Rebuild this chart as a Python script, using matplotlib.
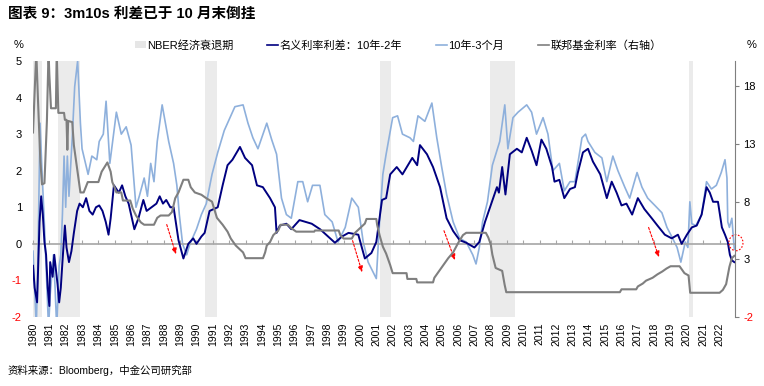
import numpy as np
import matplotlib.pyplot as plt
from matplotlib.patches import Patch, Ellipse
from matplotlib.lines import Line2D

plt.rcParams['font.family'] = ['Liberation Sans', 'Noto Sans CJK SC']
plt.rcParams['axes.unicode_minus'] = False

# NBER recessions (decimal years)
rec_start = [1980.0, 1981.55, 1990.55, 2001.2, 2007.95, 2020.1]
rec_end = [1980.55, 1982.9, 1991.25, 2001.9, 2009.5, 2020.35]

# 10y-2y spread
t_102 = [1980.0, 1980.1, 1980.25, 1980.4, 1980.5, 1980.6, 1980.7, 1980.8, 1980.9, 1981.0,
         1981.05, 1981.2, 1981.3, 1981.5, 1981.6, 1981.7, 1981.8, 1981.95, 1982.05, 1982.2,
         1982.35, 1982.5, 1982.7, 1982.85, 1983.05, 1983.25, 1983.45, 1983.65, 1983.85, 1984.05,
         1984.25, 1984.45, 1984.62, 1984.75, 1984.95, 1985.25, 1985.45, 1985.65, 1985.85, 1986.05,
         1986.2, 1986.45, 1986.75, 1986.95, 1987.25, 1987.55, 1987.75, 1987.95, 1988.15, 1988.4,
         1988.6, 1988.9, 1989.2, 1989.5, 1989.8, 1990.0, 1990.3, 1990.5, 1990.8, 1991.3,
         1991.6, 1991.9, 1992.2, 1992.66, 1992.97, 1993.4, 1993.7, 1994.06, 1994.5, 1994.8,
         1994.9, 1995.1, 1995.5, 1995.8, 1996.3, 1997.05, 1997.56, 1998.05, 1998.47, 1998.9,
         1999.3, 1999.9, 2000.3, 2000.7, 2001.0, 2001.35, 2001.6, 2001.85, 2002.25, 2002.6,
         2003.2, 2003.5, 2003.67, 2004.1, 2004.47, 2004.9, 2005.3, 2005.7, 2006.1, 2006.5,
         2007.0, 2007.3, 2007.65, 2008.07, 2008.38, 2008.5, 2008.7, 2008.9, 2009.17, 2009.6,
         2009.9, 2010.2, 2010.5, 2010.8, 2011.1, 2011.4, 2011.75, 2011.9, 2012.2, 2012.5,
         2012.85, 2013.15, 2013.33, 2013.64, 2013.95, 2014.25, 2014.7, 2015.1, 2015.4, 2015.7,
         2016.0, 2016.3, 2016.65, 2017.0, 2017.4, 2017.85, 2018.2, 2018.65, 2019.07, 2019.45,
         2019.68, 2020.0, 2020.3, 2020.6, 2020.9, 2021.2, 2021.4, 2021.6, 2021.9, 2022.14,
         2022.33, 2022.5, 2022.63, 2022.75, 2022.9]
s_102 = [-0.6, -1.2, -1.6, 0.6, 1.3, 0.8, 0.05, -0.3, -1.2, -1.7,
         -0.5, -0.9, -0.3, -1.1, -1.6, -1.2, -0.5, 0.5, -0.1, -0.5,
         -0.2, 0.3, 0.9, 1.1, 1.0, 1.25, 0.9, 0.8, 1.0, 1.05,
         0.9, 0.6, 0.25, 0.7, 1.6, 1.4, 1.6, 1.3, 1.1, 0.7,
         0.4, 0.7, 1.2, 0.9, 1.0, 1.1, 1.3, 1.1, 1.2, 1.0,
         1.0, 0.1, -0.4, 0.0, 0.15, 0.0, 0.2, 0.3, 0.9, 1.0,
         1.6, 2.15, 2.3, 2.65, 2.35, 2.15, 1.6, 1.55, 1.25, 1.0,
         0.3, 0.5, 0.55, 0.4, 0.65, 0.55, 0.4, 0.2, 0.03, 0.2,
         0.3, 0.25, -0.4, -0.25, 0.05, 1.2, 1.25, 1.9, 2.1, 1.9,
         2.35, 2.15, 2.7, 2.45, 2.1, 1.55, 0.7, 0.35, 0.1, 0.03,
         -0.1, 0.05, 0.6, 1.15, 1.55, 1.4, 2.1, 1.35, 2.45, 2.6,
         2.5, 2.9, 2.55, 2.15, 2.85, 2.6, 2.1, 1.7, 1.75, 1.25,
         1.5, 1.55, 1.95, 2.5, 2.6, 2.25, 1.9, 1.25, 1.7, 1.4,
         1.05, 1.1, 0.8, 1.25, 0.95, 0.7, 0.5, 0.25, 0.15, 0.25,
         0.0, 0.25, 0.45, 0.5, 0.8, 1.55, 1.4, 1.15, 1.15, 0.45,
         0.25, 0.05, -0.3, -0.45, -0.5]

# 10y-3m spread
t_103 = [1980.0, 1980.1, 1980.2, 1980.3, 1980.43, 1980.55, 1980.7, 1980.8, 1980.95, 1981.05,
         1981.25, 1981.35, 1981.45, 1981.6, 1981.7, 1981.8, 1981.9, 1982.0, 1982.1, 1982.2,
         1982.4, 1982.55, 1982.73, 1982.9, 1983.0, 1983.37, 1983.6, 1983.9, 1984.05, 1984.3,
         1984.47, 1984.7, 1985.1, 1985.4, 1985.7, 1986.0, 1986.3, 1986.5, 1986.8, 1987.0,
         1987.2, 1987.4, 1987.6, 1987.9, 1988.1, 1988.3, 1988.6, 1988.8, 1988.95, 1989.15,
         1989.4, 1989.6, 1989.8, 1990.0, 1990.3, 1990.6, 1990.95, 1991.3, 1991.7, 1992.35,
         1992.85, 1993.15, 1993.45, 1993.76, 1994.3, 1994.6, 1994.9, 1995.2, 1995.5, 1995.8,
         1996.2, 1996.5, 1996.8, 1997.1, 1997.55, 1997.85, 1998.3, 1998.66, 1999.1, 1999.5,
         1999.9, 2000.2, 2000.5, 2001.0, 2001.2, 2001.4, 2001.6, 2002.0, 2002.3, 2002.6,
         2003.06, 2003.27, 2003.55, 2003.97, 2004.4, 2004.7, 2005.0, 2005.3, 2005.7, 2006.1,
         2006.5, 2006.9, 2007.1, 2007.3, 2007.5, 2007.8, 2008.1, 2008.55, 2008.86, 2009.05,
         2009.36, 2009.67, 2010.2, 2010.5, 2010.8, 2011.2, 2011.5, 2011.8, 2012.2, 2012.5,
         2012.85, 2013.15, 2013.58, 2013.8, 2013.95, 2014.37, 2014.8, 2015.1, 2015.47, 2015.78,
         2016.2, 2016.5, 2016.95, 2017.25, 2017.6, 2018.04, 2018.47, 2018.78, 2019.07, 2019.4,
         2019.63, 2019.9, 2020.06, 2020.18, 2020.3, 2020.55, 2020.9, 2021.2, 2021.5, 2021.8,
         2022.1, 2022.33, 2022.45, 2022.5, 2022.6, 2022.75, 2022.9]
s_103 = [-0.2, -1.2, -2.3, -0.5, 3.3, 2.0, 0.5, -0.6, -2.3, -1.4,
         -0.3, -1.2, -2.3, -0.6, -0.3, 0.8, 2.4, 1.0, 2.4, 1.3,
         2.9, 4.3, 5.0, 3.3, 2.6, 1.9, 2.4, 2.3, 2.8, 3.0,
         3.9, 2.2, 3.6, 3.0, 3.2, 2.7, 1.0, 1.3, 1.8, 1.3,
         2.2, 1.7, 2.8, 3.8, 3.3, 2.8, 2.2, 1.6, 0.8, 0.0,
         -0.3, 0.0, 0.2, 0.4, 0.8, 1.1, 1.9, 2.5, 3.1, 3.75,
         3.8, 3.3, 2.9, 2.6, 3.3, 2.85, 2.45, 1.25, 0.8, 0.7,
         1.7, 1.7, 1.15, 1.6, 1.6, 0.8, 0.6, 0.05, 0.45, 1.25,
         1.0, 0.05, -0.5, -0.95, 0.6, 1.9, 2.45, 3.45, 3.5, 3.0,
         2.9, 2.8, 3.5, 3.35, 3.85, 2.9, 2.1, 1.35, 0.6, 0.15,
         0.05, -0.3, -0.55, -0.1, 0.6, 1.15, 2.15, 2.8, 3.8, 2.6,
         3.45, 3.6, 3.8, 3.6, 3.0, 3.45, 3.0, 2.0, 2.2, 1.45,
         1.7, 1.7, 2.9, 3.0, 2.8, 2.5, 2.35, 1.7, 2.4, 2.0,
         1.55, 1.25, 1.95, 1.55, 1.25, 1.05, 0.85, 0.45, 0.2, -0.1,
         -0.5, 0.05, -0.1, 1.15, 0.55, 0.5, 0.8, 1.7, 1.5, 1.6,
         1.95, 2.3, 1.8, 0.6, 0.45, 0.7, -0.15]

# Fed funds rate (right axis)
t_ff = [1980.0, 1980.1, 1980.2, 1980.3, 1980.45, 1980.55, 1980.7, 1980.85, 1980.95, 1981.0,
        1981.1, 1981.4, 1981.45, 1981.55, 1981.9, 1981.95, 1982.05, 1982.1, 1982.15, 1982.4,
        1982.5, 1982.75, 1982.9, 1983.1, 1983.35, 1984.0, 1984.2, 1984.55, 1984.75, 1984.85,
        1985.0, 1985.1, 1985.4, 1985.5, 1985.95, 1986.1, 1986.3, 1986.6, 1986.8, 1987.4,
        1987.6, 1987.8, 1988.3, 1988.5, 1988.7, 1988.9, 1989.2, 1989.5, 1989.65, 1989.9,
        1990.3, 1990.6, 1990.95, 1991.25, 1991.6, 1991.9, 1992.1, 1992.4, 1992.85, 1993.0,
        1994.07, 1994.2, 1994.3, 1994.5, 1994.7, 1995.0, 1995.15, 1995.6, 1995.8, 1996.1,
        1997.2, 1997.25, 1998.7, 1998.8, 1999.0, 1999.5, 1999.7, 2000.0, 2000.3, 2000.4,
        2001.0, 2001.05, 2001.2, 2001.4, 2001.6, 2001.85, 2002.0, 2002.85, 2002.9, 2003.45,
        2003.5, 2004.47, 2004.55, 2004.8, 2005.1, 2005.4, 2005.7, 2006.0, 2006.3, 2006.5,
        2007.7, 2007.85, 2008.0, 2008.1, 2008.3, 2008.7, 2008.85, 2008.95, 2015.9, 2016.0,
        2016.9, 2017.0, 2017.3, 2017.5, 2017.9, 2018.2, 2018.5, 2018.75, 2019.0, 2019.55,
        2019.7, 2019.85, 2020.1, 2020.2, 2022.0, 2022.2, 2022.4, 2022.5, 2022.6, 2022.75,
        2022.9]
s_ff = [14.0, 17.5, 21.0, 17.0, 11.5, 9.5, 9.6, 15.0, 21.0, 19.0,
        16.1, 16.1, 21.0, 15.7, 15.7, 15.1, 15.1, 12.5, 15.0, 14.9,
        12.9, 10.3, 8.8, 8.8, 9.7, 9.7, 10.6, 11.4, 10.6, 9.7,
        9.2, 8.8, 8.8, 8.1, 8.1, 7.4, 6.8, 6.2, 6.0, 6.0,
        6.6, 6.8, 6.8, 7.1, 8.3, 8.8, 9.9, 9.9, 9.25, 8.8,
        8.6, 8.3, 8.0, 6.6, 6.0, 5.4, 4.8, 4.2, 3.6, 3.1,
        3.1, 3.6, 4.2, 4.5, 5.1, 5.5, 6.0, 6.0, 5.7, 5.4,
        5.4, 5.5, 5.5, 5.1, 4.8, 4.8, 5.3, 5.7, 6.1, 6.5,
        6.5, 6.0, 5.1, 4.1, 3.5, 2.5, 1.8, 1.8, 1.3, 1.3,
        1.0, 1.0, 1.4, 1.9, 2.5, 3.1, 3.6, 4.4, 5.1, 5.3,
        5.3, 4.9, 4.3, 3.4, 2.25, 2.0, 0.8, 0.15, 0.15, 0.4,
        0.4, 0.65, 0.9, 1.15, 1.4, 1.7, 1.95, 2.2, 2.4, 2.4,
        2.1, 1.8, 1.6, 0.1, 0.1, 0.35, 0.85, 1.6, 2.35, 3.1,
        3.3]

years = list(range(1980, 2023))

# arrows marking inversions: (x0, y0, x1, y1) in data units
arrows = [(1988.13, 0.6, 1988.8, -0.36),
          (1999.5, 0.16, 2000.18, -0.85),
          (2005.08, 0.43, 2005.87, -0.52),
          (2017.6, 0.52, 2018.35, -0.44)]

navy = '#000080'
light = '#8eb0dc'
grey = '#7f7f7f'

fig = plt.figure(figsize=(7.64, 3.86), dpi=100)
ax = fig.add_axes([0.0432, 0.1788, 0.9188, 0.6632])

for a, b in zip(rec_start, rec_end):
    ax.axvspan(a, b, color='#ebebeb', lw=0, zorder=0)

ax.plot(t_103, s_103, color=light, lw=1.2, zorder=2)
ax.plot(t_102, s_102, color=navy, lw=1.4, zorder=3)

ax.set_xlim(1980, 2022.94)
ax.set_ylim(-2, 5)
ax.set_yticks(range(-2, 6))

for s in ['top', 'left', 'right']:
    ax.spines[s].set_visible(False)
ax.spines['bottom'].set_position(('data', 0))
ax.spines['bottom'].set_color('#a6a6a6')
ax.spines['bottom'].set_linewidth(1.2)
ax.set_xticks(years)
ax.tick_params(axis='x', direction='in', length=3, color='#a6a6a6', labelbottom=False)
ax.tick_params(axis='y', length=0, pad=8, labelsize=8)
for lab, v in zip(ax.get_yticklabels(), range(-2, 6)):
    lab.set_color('red' if v < 0 else 'black')

sec = ax.secondary_xaxis('bottom')
sec.set_xticks(years)
sec.set_xticklabels([str(y) for y in years], rotation=90, fontsize=7.5)
sec.tick_params(length=0, pad=4)
sec.spines['bottom'].set_visible(False)

ax2 = ax.twinx()
ax2.plot(t_ff, s_ff, color=grey, lw=1.5, zorder=4)
ax2.set_ylim(-2, 20.2)
ax2.set_yticks([-2, 3, 8, 13, 18])
for s in ['top', 'left', 'bottom']:
    ax2.spines[s].set_visible(False)
ax2.spines['right'].set_color('#7f7f7f')
ax2.tick_params(axis='y', direction='out', length=3, color='#7f7f7f', pad=3, labelsize=8)
for lab, v in zip(ax2.get_yticklabels(), [-2, 3, 8, 13, 18]):
    lab.set_color('red' if v < 0 else 'black')

for x0, y0, x1, y1 in arrows:
    ax.annotate('', xy=(x1, y1), xytext=(x0, y0),
                arrowprops=dict(arrowstyle='-|>,head_length=0.35,head_width=0.15',
                                color='red', lw=0.8, linestyle=(0, (2, 1.5))),
                zorder=6)

ax.add_patch(Ellipse((2023.0, 0.03), 0.86, 0.44, fill=False, edgecolor='red',
                     lw=0.8, linestyle=(0, (1.5, 1.5)), clip_on=False, zorder=7))

handles = [Patch(facecolor='#e6e6e6', edgecolor='none'),
           Line2D([], [], color=navy, lw=1.2),
           Line2D([], [], color=light, lw=1.2),
           Line2D([], [], color=grey, lw=1.2)]
labels = ['NBER经济衰退期', '名义利率利差：10年-2年', '10年-3个月', '联邦基金利率（右轴）']
fig.legend(handles, labels, loc='center', bbox_to_anchor=(0.521, 0.883), ncol=4,
           frameon=False, fontsize=8, handlelength=1.0, handleheight=0.7,
           handletextpad=0.15, columnspacing=3.0)

fig.text(0.024, 0.883, '%', fontsize=8, ha='center', va='center')
fig.text(0.984, 0.883, '%', fontsize=8, ha='center', va='center')
fig.text(0.01, 0.963, '图表 9：3m10s 利差已于 10 月末倒挂', fontsize=10.5,
         fontweight='bold', ha='left', va='center')
fig.text(0.01, 0.041, '资料来源：Bloomberg，中金公司研究部', fontsize=7.5,
         ha='left', va='center')

fig.savefig('out.png', dpi=100)
